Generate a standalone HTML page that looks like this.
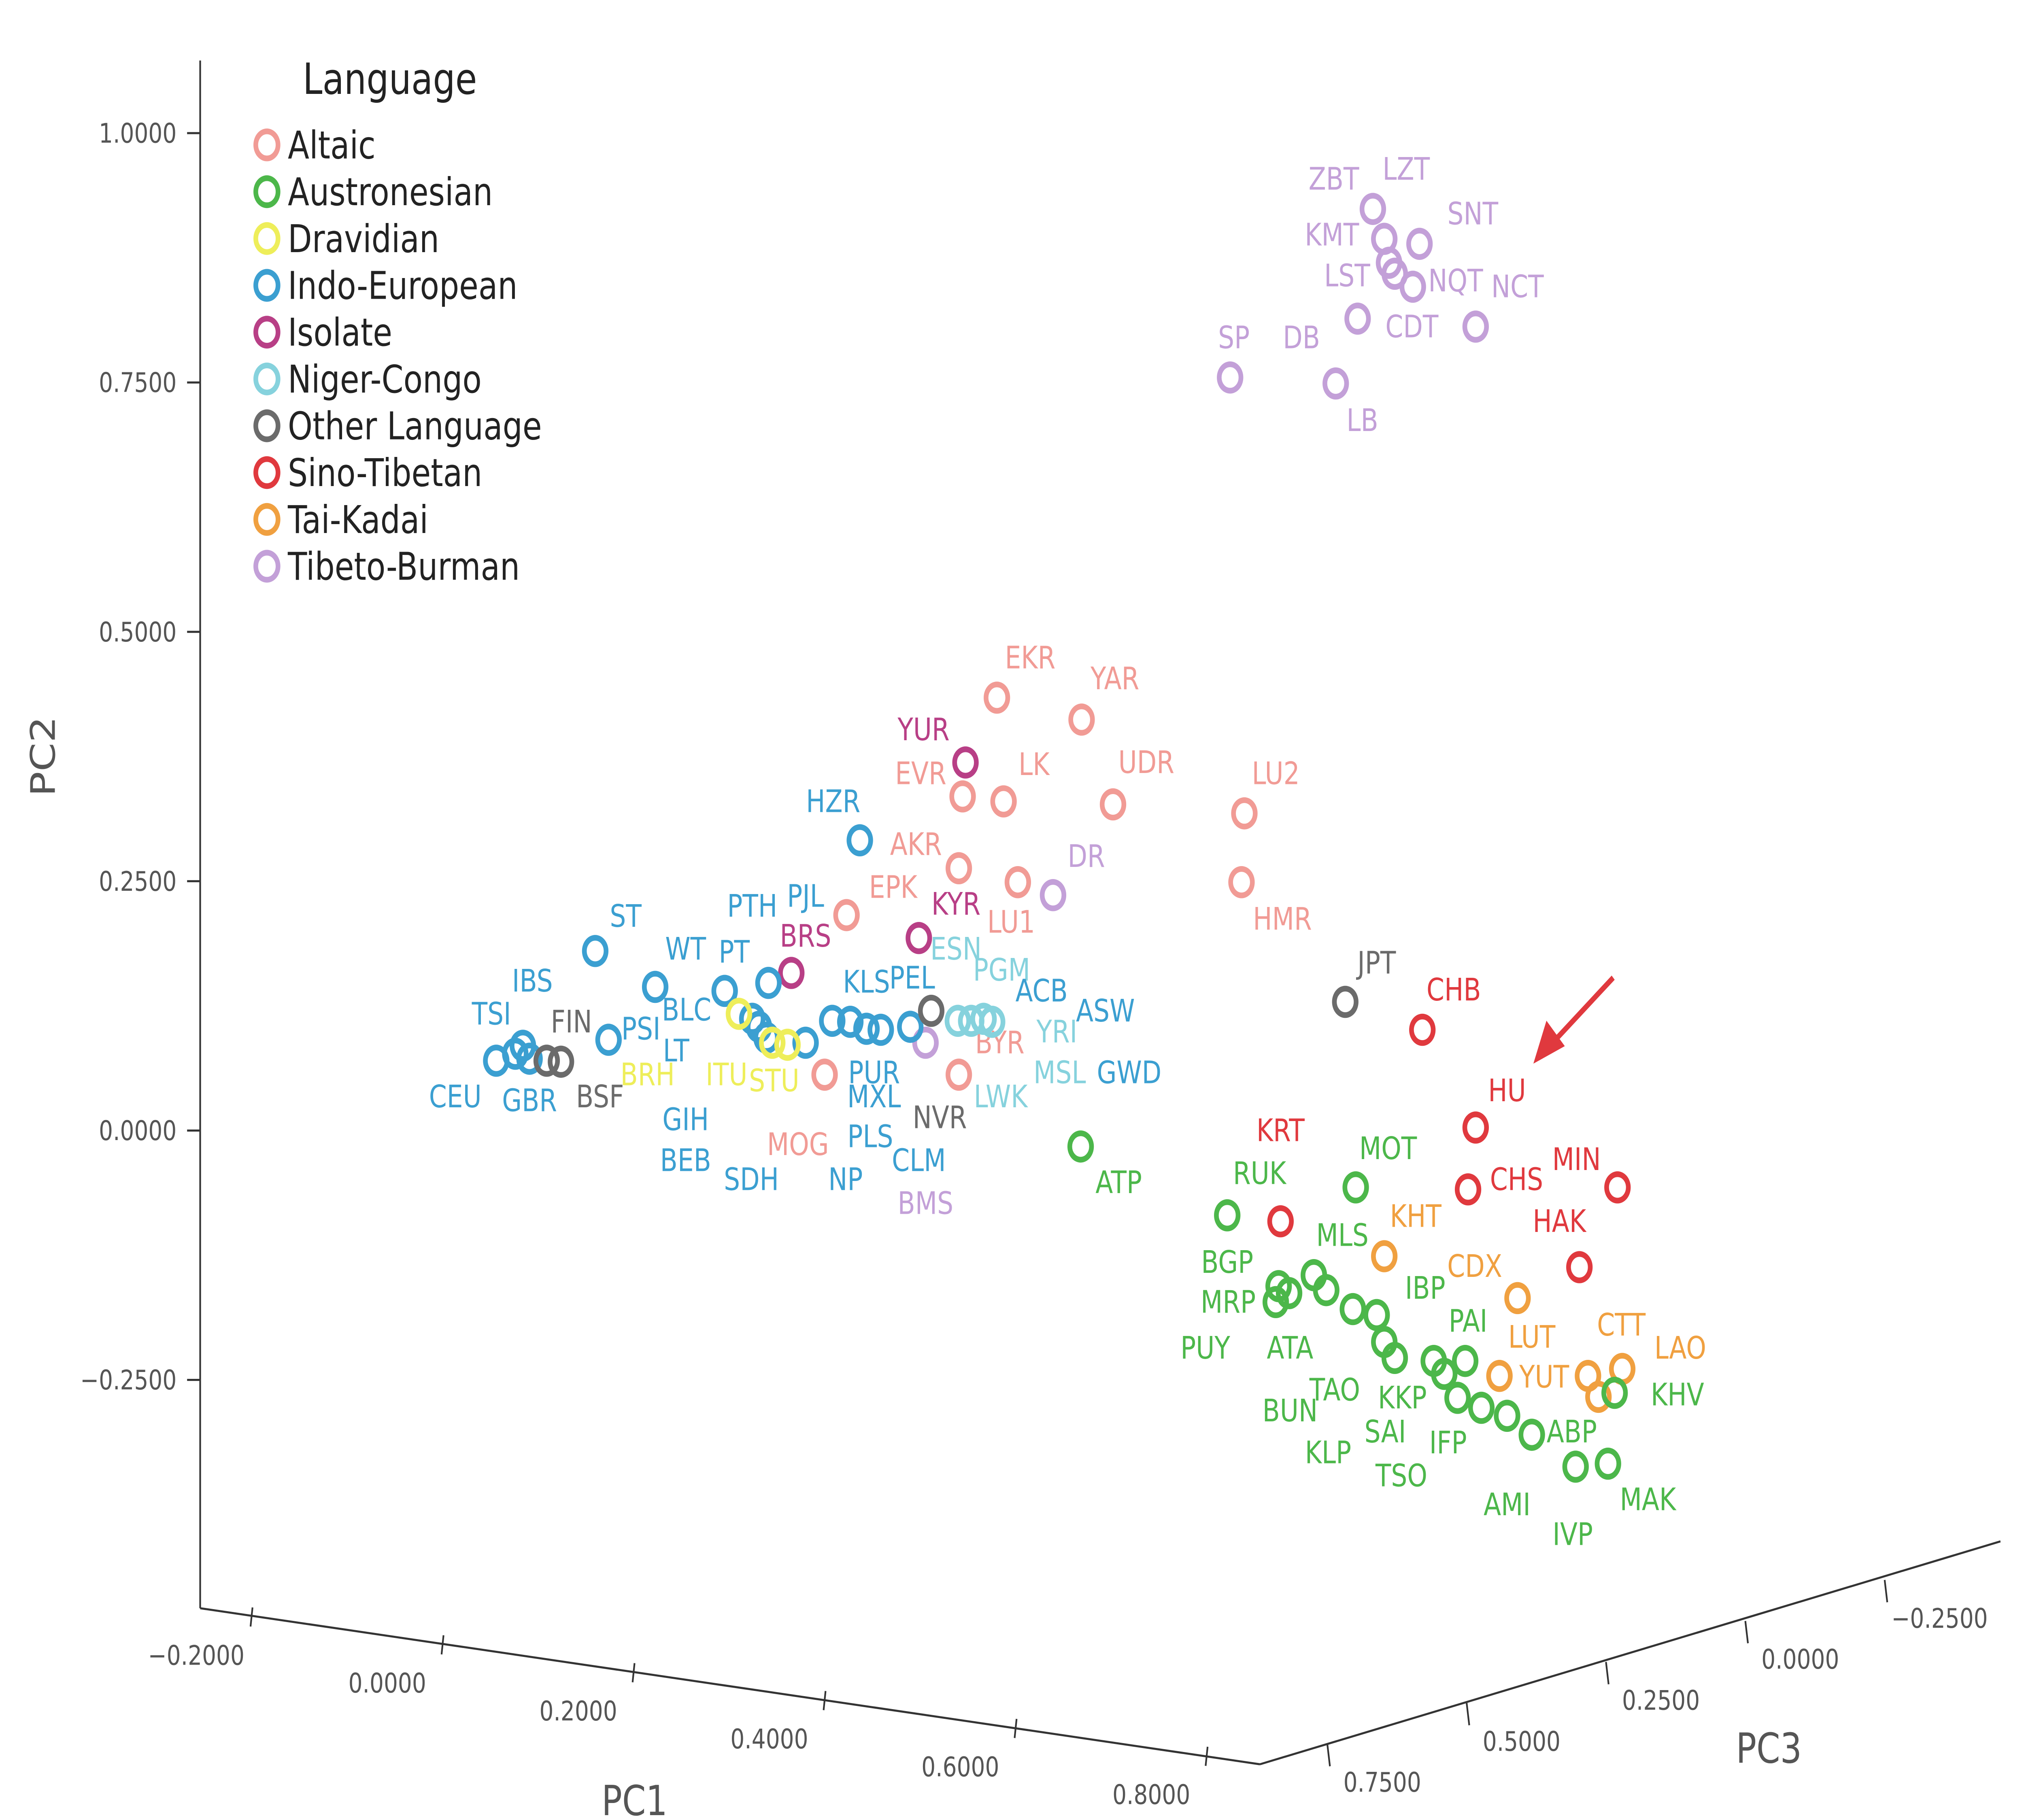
<!DOCTYPE html>
<html><head><meta charset="utf-8"><style>
html,body{margin:0;padding:0;background:#fff;width:100%;height:100%;overflow:hidden;}
svg{display:block;position:absolute;left:0;top:0;width:100vw;height:100vh;font-family:"DejaVu Sans","Liberation Sans",sans-serif;}
</style></head><body>
<svg id="chart" viewBox="0 0 1547 1143" preserveAspectRatio="none" xmlns="http://www.w3.org/2000/svg">
<rect width="1547" height="1143" fill="#fff"/>
<g id="axes" stroke="#333" stroke-width="1.3" fill="none">
<line x1="153" y1="38" x2="153" y2="1010"/>
<line x1="153" y1="1010" x2="963" y2="1108"/>
<line x1="963" y1="1108" x2="1529" y2="968"/>
</g>
<g id="ticks" fill="#555" font-size="17"></g>
<text x="42" y="475" font-size="26" fill="#555" text-anchor="middle" transform="rotate(-90 42 475)">PC2</text>
<text x="485" y="1140" font-size="26" fill="#555" text-anchor="middle">PC1</text>
<text x="1352" y="1107" font-size="26" fill="#555" text-anchor="middle">PC3</text>
<g id="labels" font-size="19.5" text-anchor="middle" dominant-baseline="central"></g>
<g id="points" fill="none" stroke-width="3.6"></g>
<g id="legend">
<text x="298" y="59" font-size="27" fill="#222" text-anchor="middle">Language</text>
</g>
<g>
<line x1="1233" y1="614" x2="1190" y2="652" stroke="#e0393e" stroke-width="3.5"/>
<polygon points="1172,668 1182,641 1196,657" fill="#e0393e"/>
</g>
</svg>
<script>
const groupNames = ["Altaic","Austronesian","Dravidian","Indo-European","Isolate","Niger-Congo","Other Language","Sino-Tibetan","Tai-Kadai","Tibeto-Burman"];
const groupColors = ["#f19b95","#4cb74a","#eeee5a","#3b9fd1","#b83f86","#86d2dd","#6b6b6b","#e0393e","#f0a040","#c3a0d8"];
const pc2Ticks = [1.0,0.75,0.5,0.25,0,-0.25];
const pc1Ticks = [-0.2,0,0.2,0.4,0.6,0.8];
const pc3Ticks = [0.75,0.5,0.25,0,-0.25];
const ptGroup = [9,9,9,9,9,9,9,9,9,9,9,9,
 0,0,0,0,0,0,0,0,0,0,0,0,
 4,4,4,
 3,3,3,3,3,3,3,3,3,3,3,3,3,3,3,3,3,3,3,
 2,2,2,
 5,5,5,5,
 6,6,6,6,
 7,7,7,7,7,7,
 8,8,8,8,8,8,
 1,1,1,1,1,1,1,1,1,1,1,1,1,1,1,1,1,1,1,1,1,1];
const ptPC1 = [0.975,0.987,1.024,0.992,0.998,1.017,0.959,1.083,0.825,0.936,0.639,0.505,
 0.580,0.669,0.544,0.587,0.702,0.840,0.540,0.602,0.837,0.422,0.399,0.540,
 0.547,0.498,0.364,
 0.436,0.158,0.221,0.294,0.340,0.082,0.054,0.089,0.074,0.172,0.330,0.338,0.379,0.407,0.426,0.443,0.458,0.489,0.323,
 0.309,0.344,0.360,
 0.539,0.553,0.566,0.575,
 0.107,0.122,0.511,0.946,
 1.027,1.083,1.075,1.232,0.878,1.192,
 0.987,1.127,1.108,1.201,1.237,1.212,
 0.668,0.822,0.957,0.913,0.876,0.873,0.887,0.926,0.954,0.979,0.987,0.998,1.039,1.072,1.050,1.064,1.089,1.116,1.142,1.188,1.222,1.229];
const ptPC2 = [0.924,0.894,0.889,0.870,0.859,0.846,0.814,0.806,0.755,0.749,0.236,0.088,
 0.434,0.412,0.335,0.330,0.327,0.318,0.263,0.249,0.249,0.216,0.056,0.056,
 0.369,0.193,0.158,
 0.291,0.180,0.144,0.140,0.148,0.085,0.070,0.072,0.077,0.091,0.104,0.093,0.088,0.110,0.109,0.102,0.101,0.104,0.112,
 0.117,0.088,0.086,
 0.110,0.110,0.112,0.109,
 0.070,0.069,0.120,0.129,
 0.101,0.003,-0.059,-0.057,-0.091,-0.137,
 -0.126,-0.168,-0.246,-0.246,-0.239,-0.267,
 -0.016,-0.085,-0.057,-0.145,-0.156,-0.172,-0.163,-0.160,-0.179,-0.185,-0.212,-0.228,-0.231,-0.231,-0.244,-0.268,-0.278,-0.286,-0.305,-0.337,-0.334,-0.263];
const labText = ["ZBT","LZT","SNT","KMT","LST","NQT","NCT","CDT","SP","DB","LB","DR","BMS",
 "EKR","YAR","EVR","LK","UDR","LU2","AKR","LU1","HMR","EPK","MOG","BYR",
 "YUR","KYR","BRS",
 "HZR","ST","WT","PT","PTH","PJL","IBS","TSI","PSI","BLC","LT","CEU","GBR","GIH","BEB","SDH","NP","PUR","MXL","PLS","CLM","KLS","PEL",
 "FIN","BSF","NVR","JPT",
 "BRH","ITU","STU",
 "ESN","PGM","ACB","ASW","YRI","MSL","GWD","LWK",
 "CHB","HU","CHS","MIN","KRT","HAK",
 "KHT","CDX","LUT","YUT","CTT","LAO",
 "ATP","RUK","MOT","MLS","IBP","BGP","MRP","PUY","ATA","PAI","BUN","TAO","KKP","SAI","KLP","IFP","TSO","AMI","ABP","MAK","KHV","IVP"];
const labGroup = [9,9,9,9,9,9,9,9,9,9,9,9,9,
 0,0,0,0,0,0,0,0,0,0,0,0,
 4,4,4,
 3,3,3,3,3,3,3,3,3,3,3,3,3,3,3,3,3,3,3,3,3,3,3,
 6,6,6,6,
 2,2,2,
 5,5,3,3,5,5,3,5,
 7,7,7,7,7,7,
 8,8,8,8,8,8,
 1,1,1,1,1,1,1,1,1,1,1,1,1,1,1,1,1,1,1,1,1,1];
const labPC1 = [0.934,1.010,1.080,0.932,0.948,1.062,1.127,1.016,0.829,0.900,0.964,0.674,0.505,
 0.615,0.704,0.500,0.619,0.737,0.873,0.495,0.595,0.880,0.471,0.371,0.583,
 0.503,0.537,0.379,
 0.408,0.190,0.253,0.304,0.323,0.379,0.092,0.049,0.206,0.254,0.243,0.011,0.089,0.253,0.253,0.322,0.421,0.451,0.451,0.447,0.498,0.443,0.491,
 0.133,0.163,0.520,0.979,
 0.213,0.296,0.346,
 0.537,0.585,0.627,0.694,0.643,0.646,0.719,0.584,
 1.060,1.116,1.126,1.189,0.878,1.171,
 1.020,1.082,1.142,1.155,1.236,1.298,
 0.708,0.856,0.991,0.943,1.030,0.822,0.823,0.799,0.888,1.075,0.888,0.935,1.006,0.988,0.928,1.054,1.005,1.116,1.184,1.264,1.295,1.185];
const labPC2 = [0.954,0.964,0.919,0.898,0.857,0.852,0.846,0.806,0.795,0.795,0.712,0.275,-0.073,
 0.474,0.453,0.358,0.367,0.369,0.358,0.287,0.209,0.212,0.244,-0.014,0.088,
 0.402,0.227,0.195,
 0.330,0.215,0.182,0.179,0.225,0.235,0.150,0.117,0.102,0.121,0.080,0.034,0.030,0.011,-0.030,-0.049,-0.049,0.058,0.034,-0.006,-0.030,0.149,0.153,
 0.109,0.034,0.013,0.168,
 0.056,0.056,0.050,
 0.182,0.161,0.140,0.120,0.099,0.058,0.058,0.034,
 0.141,0.040,-0.049,-0.029,0.000,-0.091,
 -0.086,-0.136,-0.207,-0.247,-0.195,-0.218,
 -0.052,-0.043,-0.018,-0.105,-0.158,-0.132,-0.172,-0.218,-0.218,-0.191,-0.281,-0.260,-0.268,-0.302,-0.323,-0.313,-0.346,-0.375,-0.302,-0.370,-0.265,-0.405];

const NS = "http://www.w3.org/2000/svg";
const xS = v => 340 + 727.5 * v;
const yS = v => 710 - 626.4 * v;
const p1S = v => ({x: 339 + 730 * v, y: 1037 + 87.5 * v});
const p3S = v => ({x: 1334 - 426 * v, y: 1020 + 103 * v});
function mk(tag, attrs, parent) {
  const el = document.createElementNS(NS, tag);
  for (const k in attrs) el.setAttribute(k, attrs[k]);
  parent.appendChild(el);
  return el;
}
const fmt = v => (v < 0 ? '\u2212' + (-v).toFixed(4) : v.toFixed(4));
const ticks = document.getElementById('ticks');
pc2Ticks.forEach(v => {
  const y = yS(v);
  const l = mk('line', {x1: 143, y1: y, x2: 153, y2: y, stroke: '#333', 'stroke-width': 1.3}, ticks);
  
  
  const t = mk('text', {x: 135, y: y + 6, 'text-anchor': 'end'}, ticks);
  
  
  t.textContent = fmt(v);
});
pc1Ticks.forEach(v => {
  const p = p1S(v);
  const l = mk('line', {x1: p.x, y1: p.y - 10, x2: p.x - 1.5, y2: p.y + 2, stroke: '#333', 'stroke-width': 1.3}, ticks);
  
  
  const t = mk('text', {x: p.x - 43, y: p.y + 26, 'text-anchor': 'middle'}, ticks);
  
  
  t.textContent = fmt(v);
});
pc3Ticks.forEach(v => {
  const p = p3S(v);
  const l = mk('line', {x1: p.x, y1: p.y - 2, x2: p.x + 2, y2: p.y + 12, stroke: '#333', 'stroke-width': 1.3}, ticks);
  
  
  const t = mk('text', {x: p.x + 42, y: p.y + 28, 'text-anchor': 'middle'}, ticks);
  
  
  t.textContent = fmt(v);
});
const pts = document.getElementById('points');
ptGroup.forEach((g, i) => {
  const c = mk('circle', {cx: xS(ptPC1[i]), cy: yS(ptPC2[i]), r: 8.3, stroke: groupColors[g]}, pts);
  
  
});
const labs = document.getElementById('labels');
labText.forEach((s, i) => {
  const t = mk('text', {x: xS(labPC1[i]), y: yS(labPC2[i]), fill: groupColors[labGroup[i]]}, labs);
  
  
  t.textContent = s;
});
const leg = document.getElementById('legend');
groupNames.forEach((n, i) => {
  const y = 91 + 29.4 * i;
  const g = mk('g', {}, leg);
  
  
  mk('circle', {cx: 204, cy: y, r: 8.5, fill: 'none', stroke: groupColors[i], 'stroke-width': 3.6}, g);
  const t = mk('text', {x: 220, y: y + 8.5, 'font-size': 24, fill: '#222'}, g);
  t.textContent = n;
});
</script>
</body></html>
